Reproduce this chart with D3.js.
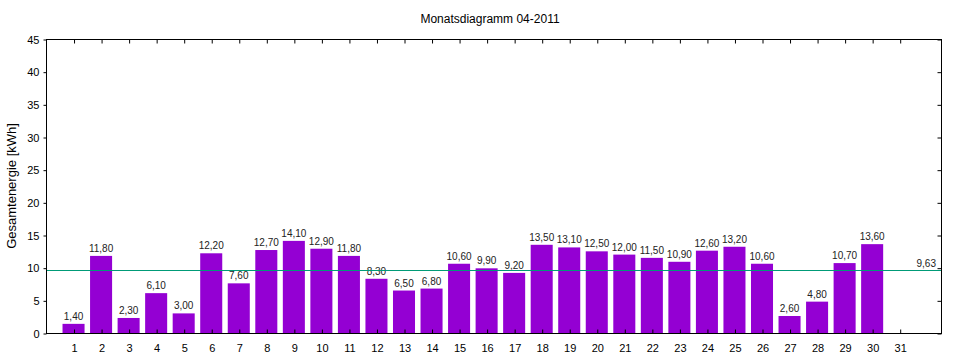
<!DOCTYPE html>
<html><head><meta charset="utf-8">
<script src="https://cdn.jsdelivr.net/npm/d3@7"></script>
<style>body{margin:0;background:#fff}svg{display:block}text{font-family:"Liberation Sans",Arial,sans-serif}</style>
</head><body>
<script>
const title = "Monatsdiagramm 04-2011";
const yTitle = "Gesamtenergie [kWh]";
const days = d3.range(1, 32);
const values = [1.4, 11.8, 2.3, 6.1, 3.0, 12.2, 7.6, 12.7, 14.1, 12.9, 11.8, 8.3, 6.5, 6.8, 10.6, 9.9, 9.2, 13.5, 13.1, 12.5, 12.0, 11.5, 10.9, 12.6, 13.2, 10.6, 2.6, 4.8, 10.7, 13.6, null];
const mean = 9.63;
const yTicks = [0, 5, 10, 15, 20, 25, 30, 35, 40, 45];

const W = 960, H = 360;
const m = {l: 46, r: 19, t: 39, b: 27};
const svg = d3.select("body").append("svg").attr("width", W).attr("height", H);
const x = d3.scaleLinear().domain([0, 32.5]).range([m.l, W - m.r]);
const y = d3.scaleLinear().domain([0, 45]).range([H - m.b, m.t]);
const step = x(1) - x(0);
const bw = step * 0.8;
const fmt = v => v.toFixed(2).replace(".", ",");

// bars
const data = days.map((d, i) => ({d, v: values[i]})).filter(o => o.v != null);
svg.append("g").selectAll("rect").data(data).join("rect")
  .attr("x", o => x(o.d) - bw / 2).attr("width", bw)
  .attr("y", o => y(o.v)).attr("height", o => y(0) - y(o.v))
  .attr("fill", "#9400d3");
svg.append("g").selectAll("text").data(data).join("text")
  .attr("x", o => x(o.d)).attr("y", o => y(o.v) - 4)
  .attr("text-anchor", "middle").attr("font-size", 10).attr("fill", "#222")
  .text(o => fmt(o.v));

// mean line
svg.append("line").attr("x1", x(0)).attr("x2", x(32.5)).attr("y1", Math.round(y(mean)) + 0.5).attr("y2", Math.round(y(mean)) + 0.5)
  .attr("stroke", "#009b77").attr("stroke-width", 1.2);
svg.append("text").attr("x", x(32.5) - 5).attr("y", y(mean) - 3).attr("text-anchor", "end")
  .attr("font-size", 10).attr("fill", "#222").text(fmt(mean));

// frame
svg.append("rect").attr("x", m.l + 0.5).attr("y", m.t + 0.5).attr("width", W - m.r - m.l).attr("height", H - m.b - m.t)
  .attr("fill", "none").attr("stroke", "#000").attr("stroke-width", 1);

// axes
const xb = svg.append("g").attr("transform", `translate(0.5,${H - m.b + 0.5})`)
  .call(d3.axisBottom(x).tickValues(days).tickSize(-4).tickPadding(11).tickFormat(d3.format("d")));
const xt = svg.append("g").attr("transform", `translate(0.5,${m.t + 0.5})`)
  .call(d3.axisTop(x).tickValues(days).tickSize(-4).tickFormat(""));
const yl = svg.append("g").attr("transform", `translate(${m.l + 0.5},0.5)`)
  .call(d3.axisLeft(y).tickValues(yTicks).tickSize(3).tickPadding(4));
const yr = svg.append("g").attr("transform", `translate(${W - m.r + 0.5},0.5)`)
  .call(d3.axisRight(y).tickValues(yTicks).tickSize(-4).tickFormat(""));
[xb, xt, yl, yr].forEach(g => {
  g.select(".domain").remove();
  g.selectAll("text").attr("font-size", 11).attr("fill", "#000").style("font-family", '"Liberation Sans",Arial,sans-serif');
});

svg.append("text").attr("x", 490).attr("y", 23).attr("text-anchor", "middle").attr("font-size", 12).text(title);
svg.append("text").attr("transform", `translate(16,${(m.t + H - m.b) / 2}) rotate(-90)`).attr("text-anchor", "middle")
  .attr("font-size", 13).text(yTitle);
</script>
</body></html>
